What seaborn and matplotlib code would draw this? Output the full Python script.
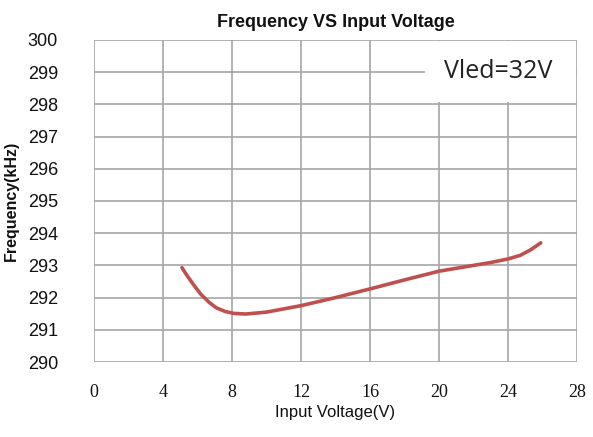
import matplotlib
matplotlib.use("Agg")
import matplotlib.pyplot as plt
from matplotlib.patches import Rectangle
import pandas as pd
import seaborn as sns

# values
voltage = [5.1, 5.4, 5.8, 6.2, 6.7, 7.1, 7.6, 8.1, 8.8, 10.0, 12.0, 14.0,
           16.0, 18.0, 20.0, 22.0, 23.0, 24.0, 24.7, 25.3, 25.9]
frequency = [292.93, 292.68, 292.38, 292.10, 291.84, 291.68, 291.57, 291.51,
             291.49, 291.55, 291.75, 292.00, 292.27, 292.55, 292.82, 293.00,
             293.09, 293.20, 293.31, 293.48, 293.70]
x_ticks = [0, 4, 8, 12, 16, 20, 24, 28]
y_ticks = [290, 291, 292, 293, 294, 295, 296, 297, 298, 299, 300]

df = pd.DataFrame({"voltage": voltage, "frequency": frequency})

sns.set_theme(style="white")
plt.rcParams["font.family"] = ["Liberation Sans", "DejaVu Sans"]

fig = plt.figure(figsize=(5.93, 4.37), dpi=100)
ax = fig.add_axes([0.1585, 0.1716, 0.8145, 0.7369])

sns.lineplot(data=df, x="voltage", y="frequency", color="#C0504D",
             linewidth=2.6, ax=ax, zorder=3)

ax.set_xlim(0, 28)
ax.set_ylim(290, 300)
ax.set_xticks(x_ticks)
ax.set_yticks(y_ticks)
ax.set_xticklabels([str(t) for t in x_ticks], family="Liberation Serif", fontsize=13)
ax.set_yticklabels([str(t) for t in y_ticks], fontsize=13)
ax.tick_params(axis="x", length=0, pad=16, colors="#111111")
ax.tick_params(axis="y", length=0, pad=26, colors="#111111")
ax.grid(True, color="#a6a6a6", linewidth=1.2)
for s in ax.spines.values():
    s.set_visible(False)

ax.set_xlabel("Input Voltage(V)", fontsize=12, labelpad=3, color="#111111")
ax.set_ylabel("Frequency(kHz)", fontsize=11.5, fontweight="bold", labelpad=6,
              color="#111111")
ax.set_title("Frequency VS Input Voltage", fontsize=13, fontweight="bold", pad=9,
             color="#111111")

# white label box over the grid in the upper right corner
ax.add_patch(Rectangle((0.686, 0.807), 0.311, 0.19, transform=ax.transAxes,
                       facecolor="white", edgecolor="none", zorder=2))
ax.text(0.836, 0.903, "Vled=32V", transform=ax.transAxes, ha="center", va="center",
        fontsize=18, family="Open Sans", color="#222222", zorder=4)

fig.savefig("out.png", dpi=100)
